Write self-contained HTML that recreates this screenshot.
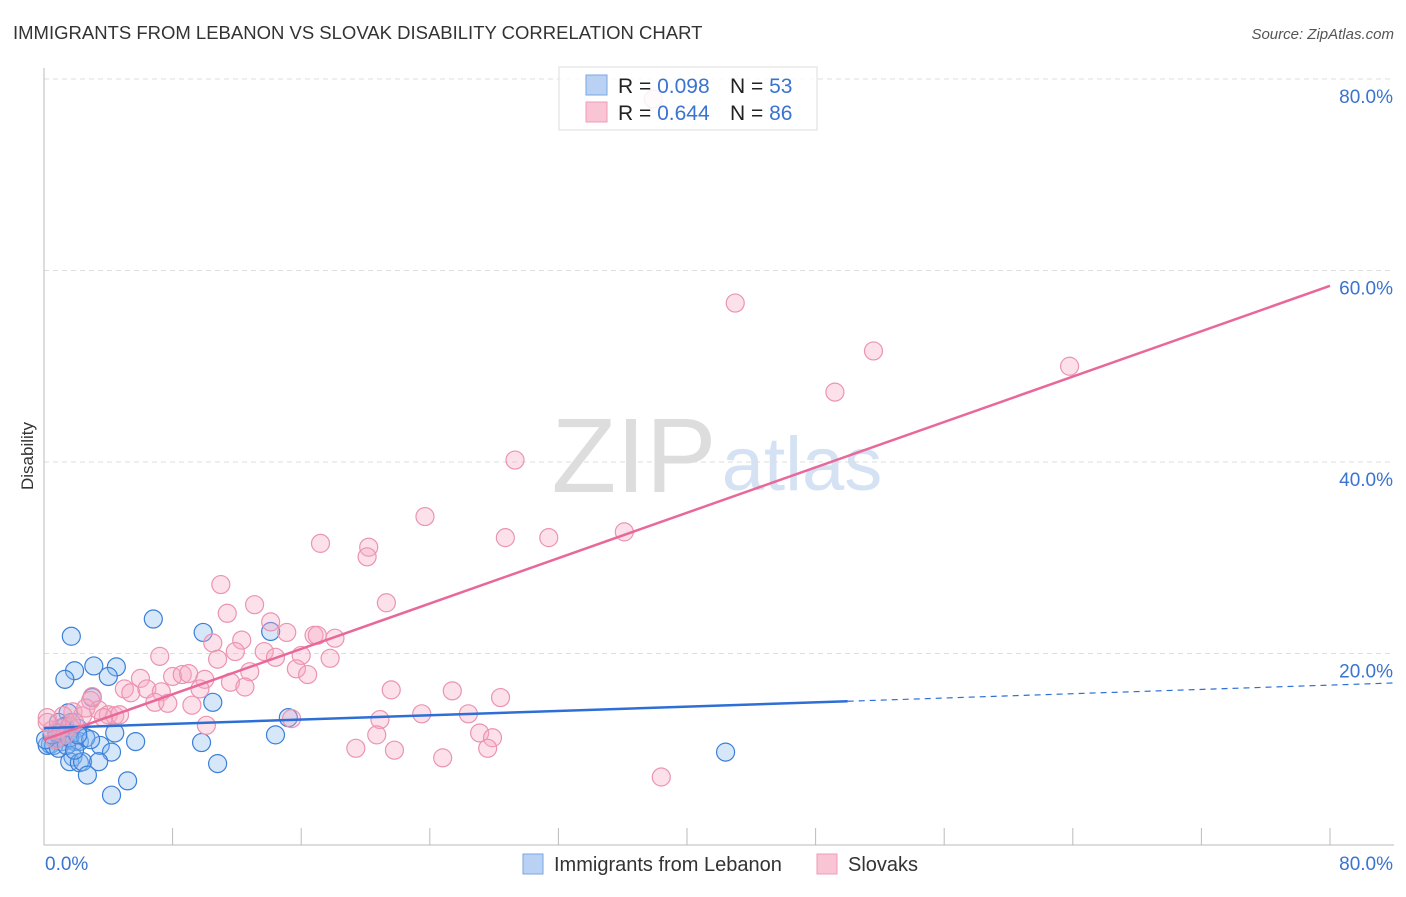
<!DOCTYPE html>
<html><head><meta charset="utf-8"><style>
body{margin:0;background:#fff;font-family:"Liberation Sans",sans-serif}
svg text{font-family:"Liberation Sans",sans-serif}
</style></head><body>
<svg id="chart" width="1406" height="892" xmlns="http://www.w3.org/2000/svg">
<text x="13" y="39" font-size="18.5" fill="#333">IMMIGRANTS FROM LEBANON VS SLOVAK DISABILITY CORRELATION CHART</text>
<text x="1394" y="39" font-size="15" fill="#555" font-style="italic" text-anchor="end">Source: ZipAtlas.com</text>
<text x="33" y="456" font-size="17" fill="#333" transform="rotate(-90 33 456)" text-anchor="middle">Disability</text>
<g>
<text x="634" y="492" font-size="106" fill="#ddd" font-family="Liberation Serif" text-anchor="middle">ZIP</text>
<text x="802" y="490" font-size="76" fill="#d4e2f4" text-anchor="middle">atlas</text>
</g>
<g id="grid"></g><g id="axes"></g><g id="pts"></g><g id="lines"></g>
<g>
<rect x="559" y="67" width="258" height="63" fill="rgba(255,255,255,0.85)" stroke="#ddd"/>
<rect x="586" y="75" width="21" height="20" fill="#b9d2f4" stroke="#7aa6e0"/>
<rect x="586" y="102" width="21" height="20" fill="#f9c5d4" stroke="#ee9db6"/>
<text x="618" y="93" font-size="21" fill="#222">R = <tspan fill="#3a73d0">0.098</tspan></text>
<text x="730" y="93" font-size="21" fill="#222">N = <tspan fill="#3a73d0">53</tspan></text>
<text x="618" y="120" font-size="21" fill="#222">R = <tspan fill="#3a73d0">0.644</tspan></text>
<text x="730" y="120" font-size="21" fill="#222">N = <tspan fill="#3a73d0">86</tspan></text>
</g>
<g>
<rect x="523" y="854" width="20" height="20" fill="#b9d2f4" stroke="#7aa6e0"/>
<text x="554" y="871" font-size="20" fill="#333">Immigrants from Lebanon</text>
<rect x="817" y="854" width="20" height="20" fill="#f9c5d4" stroke="#ee9db6"/>
<text x="848" y="871" font-size="20" fill="#333">Slovaks</text>
</g>
</svg>
<script>
const yTicks=[20,40,60,80];
const xTickCount=10;
const xMax=80;
const blueX=[1.7,6.8,9.9,14.1,1.9,3.1,4.5,1.3,4.0,10.5,3.0,1.5,0.9,1.3,1.7,2.1,1.5,1.0,0.7,0.4,0.2,1.1,1.9,2.2,15.2,4.4,14.4,5.7,9.8,3.5,4.2,1.8,1.6,2.2,2.4,3.4,10.8,42.4,2.7,5.2,4.2,0.6,0.9,0.1,1.1,0.8,0.5,1.4,1.6,2.6,2.9,1.9,2.1];
const blueY=[21.8,23.6,22.2,22.3,18.2,18.7,18.6,17.3,17.6,14.9,15.4,13.8,12.8,12.4,12.8,12.2,11.7,11.2,11.0,10.5,10.4,10.8,10.8,10.8,13.3,11.7,11.5,10.8,10.7,10.4,9.7,9.2,8.7,8.6,8.7,8.7,8.5,9.7,7.3,6.7,5.2,10.4,10.1,11.0,12.2,11.7,11.5,10.4,11.2,11.2,11.0,9.9,11.5];
const pinkX=[43.0,51.6,49.2,63.8,29.3,23.7,28.7,31.4,36.1,17.2,20.2,20.1,11.0,21.3,13.1,11.4,14.1,15.1,16.8,17.0,18.1,12.3,10.5,7.2,10.8,11.9,13.7,14.4,16.0,17.8,12.8,15.7,16.4,8.0,8.6,9.0,10.0,6.0,11.6,5.0,5.4,6.4,7.3,9.7,12.5,21.6,25.4,28.4,3.0,2.9,6.9,7.7,9.2,3.4,1.8,2.4,4.0,4.4,4.7,3.7,1.2,0.2,10.1,15.4,20.9,23.5,26.4,27.1,27.9,20.7,27.6,19.4,21.8,24.8,38.4,1.0,0.5,1.6,0.7,0.2,1.3,1.9,2.6,37.9];
const pinkY=[56.6,51.6,47.3,50.0,40.2,34.3,32.1,32.1,32.7,31.5,31.1,30.1,27.2,25.3,25.1,24.2,23.3,22.2,21.9,21.9,21.6,21.4,21.1,19.7,19.4,20.2,20.2,19.6,19.8,19.5,18.1,18.4,17.8,17.6,17.8,17.9,17.3,17.4,17.0,16.3,15.9,16.3,16.0,16.3,16.5,16.2,16.1,15.4,15.5,15.1,14.9,14.8,14.6,14.1,13.9,13.5,13.6,13.5,13.6,13.3,13.5,13.3,12.5,13.2,13.1,13.7,13.7,11.7,11.2,11.5,10.1,10.1,9.9,9.1,7.1,12.2,12.0,12.4,11.0,12.8,11.5,12.8,14.3,77.9];
const blueTrend=[12.2,16.7];
const blueSolidEnd=50;
const pinkTrend=[11.0,58.4];
const NS="http://www.w3.org/2000/svg";
const X0=44,X1=1330,Y0=845,Y1=79;
function sx(v){return X0+(X1-X0)*v/xMax;}
function sy(v){return Y0-(Y0-Y1)*v/80;}
function mk(tag,attrs,parent){const e=document.createElementNS(NS,tag);for(const k in attrs)e.setAttribute(k,attrs[k]);parent.appendChild(e);return e;}
const grid=document.getElementById('grid'),axes=document.getElementById('axes'),pts=document.getElementById('pts'),lines=document.getElementById('lines');
yTicks.forEach(t=>{
 const g=mk('line',{x1:X0,x2:1394,y1:sy(t),y2:sy(t),stroke:'#ddd','stroke-dasharray':'5,4'},grid);
 
 
 const l=mk('text',{x:1393,y:sy(t)+24,'font-size':19,fill:'#3a73d0','text-anchor':'end'},grid);
 l.textContent=t.toFixed(1)+'%';
 
 
});
const ax=mk('line',{x1:X0,x2:1394,y1:Y0,y2:Y0,stroke:'#bbb'},axes);


const ay=mk('line',{x1:X0,x2:X0,y1:68,y2:Y0,stroke:'#bbb'},axes);


for(let i=1;i<=xTickCount;i++){
 const t=mk('line',{x1:sx(i*xMax/xTickCount),x2:sx(i*xMax/xTickCount),y1:828,y2:Y0,stroke:'#bbb'},axes);
 
 
}
const xl0=mk('text',{x:45,y:870,'font-size':19,fill:'#3a73d0'},axes);xl0.textContent='0.0%';


const xl1=mk('text',{x:1393,y:870,'font-size':19,fill:'#3a73d0','text-anchor':'end'},axes);xl1.textContent=xMax.toFixed(1)+'%';


blueX.forEach((v,i)=>{
 const c=mk('circle',{cx:sx(v),cy:sy(blueY[i]),r:9,fill:'rgba(140,185,240,0.35)',stroke:'#3a7fd8','stroke-width':1.2},pts);
 
 
});
pinkX.forEach((v,i)=>{
 const c=mk('circle',{cx:sx(v),cy:sy(pinkY[i]),r:9,fill:'rgba(245,170,195,0.35)',stroke:'#eb94b0','stroke-width':1.2},pts);
 
 
});
function ty(tr,x){return tr[0]+(tr[1]-tr[0])*x/xMax;}
const bl=mk('line',{x1:sx(0),y1:sy(ty(blueTrend,0)),x2:sx(blueSolidEnd),y2:sy(ty(blueTrend,blueSolidEnd)),stroke:'#2e6fd6','stroke-width':2.5},lines);


const xe=xMax*(1394-X0)/(X1-X0);
const bd=mk('line',{x1:sx(blueSolidEnd),y1:sy(ty(blueTrend,blueSolidEnd)),x2:1394,y2:sy(ty(blueTrend,xe)),stroke:'#2e6fd6','stroke-width':1.2,'stroke-dasharray':'6,5'},lines);


const pl=mk('line',{x1:sx(0),y1:sy(ty(pinkTrend,0)),x2:sx(xMax),y2:sy(ty(pinkTrend,xMax)),stroke:'#e8689a','stroke-width':2.5},lines);


</script>
</body></html>
